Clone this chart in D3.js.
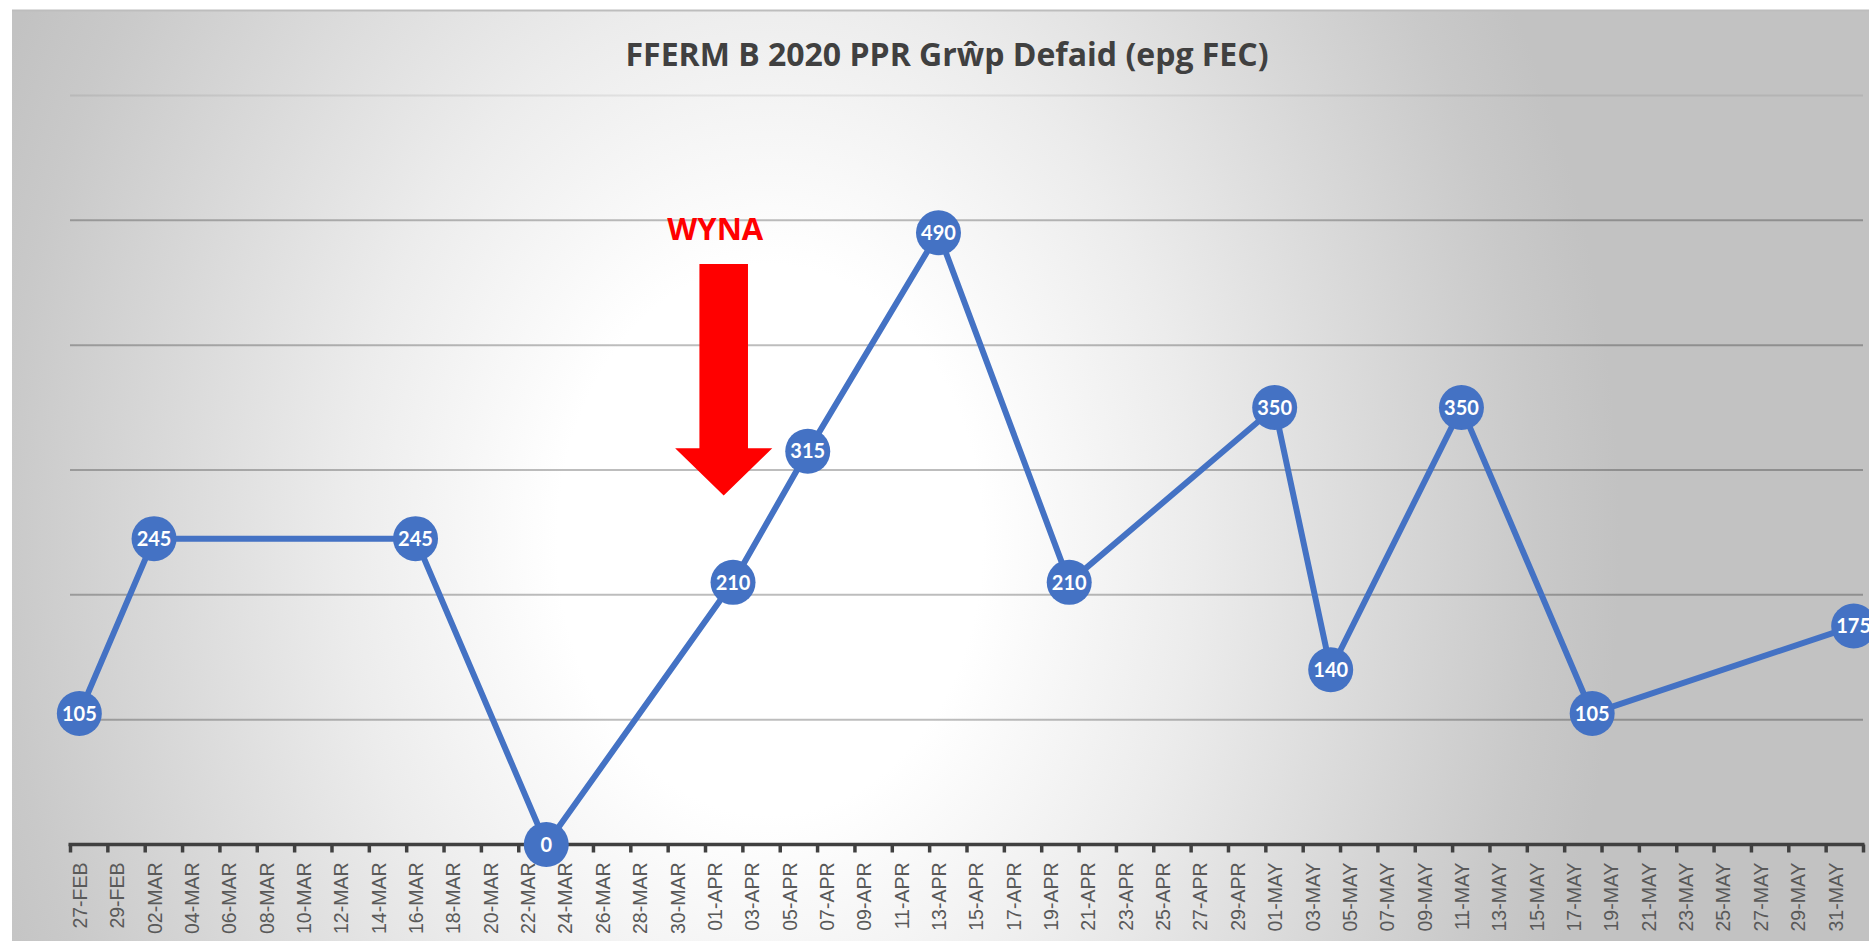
<!DOCTYPE html>
<html>
<head>
<meta charset="utf-8">
<script src="https://cdn.jsdelivr.net/npm/d3@7"></script>
<style>
  html, body { margin: 0; padding: 0; background: #ffffff; }
  svg { display: block; }
</style>
</head>
<body>
<svg id="chart" width="1869" height="941"></svg>
<script>
// ---- data ----
const title = "FFERM B 2020 PPR Grŵp Defaid (epg FEC)";
const sampleDates = ["2020-02-27","2020-03-02","2020-03-16","2020-03-23","2020-04-02","2020-04-06",
                     "2020-04-13","2020-04-20","2020-05-01","2020-05-04","2020-05-11","2020-05-18","2020-06-01"];
const epgValues = [105, 245, 245, 0, 210, 315, 490, 210, 350, 140, 350, 105, 175];
const axisStart = "2020-02-27";
const axisEnd = "2020-06-02";
const gridValues = [100, 200, 300, 400, 500, 600];
const annotationText = "WYNA";
const annotationDate = "2020-04-02";

// ---- layout ----
const W = 1869, H = 941;
const plot = { left: 70, right: 1863, top: 95.5, bottom: 844.5 };
const svg = d3.select("#chart");
const parse = d3.utcParse("%Y-%m-%d");
const DAY = 864e5;

const x = d3.scaleUtc().domain([parse(axisStart), parse(axisEnd)]).range([plot.left, plot.right]);
const y = d3.scaleLinear().domain([0, 600]).range([plot.bottom, plot.top]);
const dayW = x(new Date(parse(axisStart).getTime() + DAY)) - x(parse(axisStart));

// background
const defs = svg.append("defs");
const cx = 770, cy = 540;
const grad = defs.append("radialGradient").attr("id", "bg")
  .attr("gradientUnits", "userSpaceOnUse")
  .attr("cx", cx).attr("cy", cy).attr("r", 1000)
  .attr("gradientTransform", `translate(${cx},${cy}) scale(0.85,1.1) translate(${-cx},${-cy})`);
grad.append("stop").attr("offset", 0).attr("stop-color", "#ffffff");
grad.append("stop").attr("offset", 0.25).attr("stop-color", "#ffffff");
grad.append("stop").attr("offset", 0.5).attr("stop-color", "#ececec");
grad.append("stop").attr("offset", 0.9).attr("stop-color", "#c9c9c9");
grad.append("stop").attr("offset", 1).attr("stop-color", "#c2c2c2");
svg.append("rect").attr("x", 12).attr("y", 10).attr("width", W - 12).attr("height", H - 10)
  .attr("fill", "url(#bg)");
svg.append("line").attr("x1", 12).attr("x2", W).attr("y1", 10.5).attr("y2", 10.5)
  .attr("stroke", "#bdbdbd").attr("stroke-width", 2);

// gridlines
svg.append("g").selectAll("line").data(gridValues).join("line")
  .attr("x1", plot.left).attr("x2", plot.right)
  .attr("y1", d => y(d)).attr("y2", d => y(d))
  .attr("stroke", "#000")
  .attr("stroke-opacity", d => d === 600 ? 0.07 : 0.26)
  .attr("stroke-width", 2);

// title
svg.append("text").attr("x", 947).attr("y", 66)
  .attr("text-anchor", "middle")
  .attr("font-family", "'Open Sans', sans-serif").attr("font-weight", 700)
  .attr("font-size", 32).attr("fill", "#404040")
  .text(title);

// x axis: ticks every 2 days at boundaries, labels centred on the labelled day
const nTicks = Math.round((parse(axisEnd) - parse(axisStart)) / (2 * DAY));
const tickDates = d3.range(nTicks + 1).map(i => new Date(parse(axisStart).getTime() + i * 2 * DAY));
const labelDates = tickDates.slice(0, -1).map(d => new Date(d.getTime() + DAY / 2));
const fmt = d3.utcFormat("%d-%b");

const gTicks = svg.append("g").attr("transform", `translate(0,${plot.bottom})`)
  .call(d3.axisBottom(x).tickValues(tickDates).tickSize(8).tickSizeOuter(0).tickFormat(""));
gTicks.select(".domain").attr("stroke", "#404040").attr("stroke-width", 3.5)
  .attr("d", `M${plot.left - 1.5},0H${plot.right + 1.5}`);
gTicks.selectAll(".tick line").attr("stroke", "#404040").attr("stroke-width", 3.5);

const gLabels = svg.append("g").attr("transform", `translate(0,${plot.bottom})`)
  .call(d3.axisBottom(x).tickValues(labelDates).tickSize(0).tickFormat(d => fmt(d).toUpperCase()));
gLabels.select(".domain").remove();
gLabels.selectAll(".tick text")
  .attr("font-family", "'Liberation Sans', Arial, sans-serif")
  .attr("font-size", 19.5).attr("fill", "#595959")
  .attr("text-anchor", "end")
  .attr("transform", "rotate(-90)")
  .attr("x", -18).attr("y", 0).attr("dy", "0.36em");

// annotation (arrow + text)
const aDate = parse(annotationDate);
const ax = x(aDate);
const shaftHalf = 1.3 * dayW, headHalf = 2.6 * dayW;
const shaftTop = y(465), headBase = y(317.5), tip = y(279.5);
svg.append("path")
  .attr("d", `M${ax - shaftHalf},${shaftTop}H${ax + shaftHalf}V${headBase}H${ax + headHalf}L${ax},${tip}L${ax - headHalf},${headBase}H${ax - shaftHalf}Z`)
  .attr("fill", "#ff0000");
svg.append("text").attr("x", x(new Date(aDate.getTime() - 0.45 * DAY))).attr("y", y(484))
  .attr("text-anchor", "middle")
  .attr("font-family", "'Open Sans', sans-serif").attr("font-weight", 700)
  .attr("font-size", 31).attr("fill", "#ff0000")
  .text(annotationText);

// series
const series = sampleDates.map((d, i) => ({ date: new Date(parse(d).getTime() + DAY / 2), value: epgValues[i] }));
svg.append("path").datum(series)
  .attr("fill", "none").attr("stroke", "#4472c4").attr("stroke-width", 6)
  .attr("stroke-linejoin", "round")
  .attr("d", d3.line().x(d => x(d.date)).y(d => y(d.value)));

const pts = svg.append("g").selectAll("g").data(series).join("g")
  .attr("transform", d => `translate(${x(d.date)},${y(d.value)})`);
pts.append("circle").attr("r", 22.5).attr("fill", "#4472c4");
pts.append("text").attr("text-anchor", "middle").attr("dy", "0.36em")
  .attr("font-family", "Lato, sans-serif").attr("font-weight", 700)
  .attr("font-size", 20).attr("fill", "#ffffff")
  .text(d => d.value);
</script>
</body>
</html>
